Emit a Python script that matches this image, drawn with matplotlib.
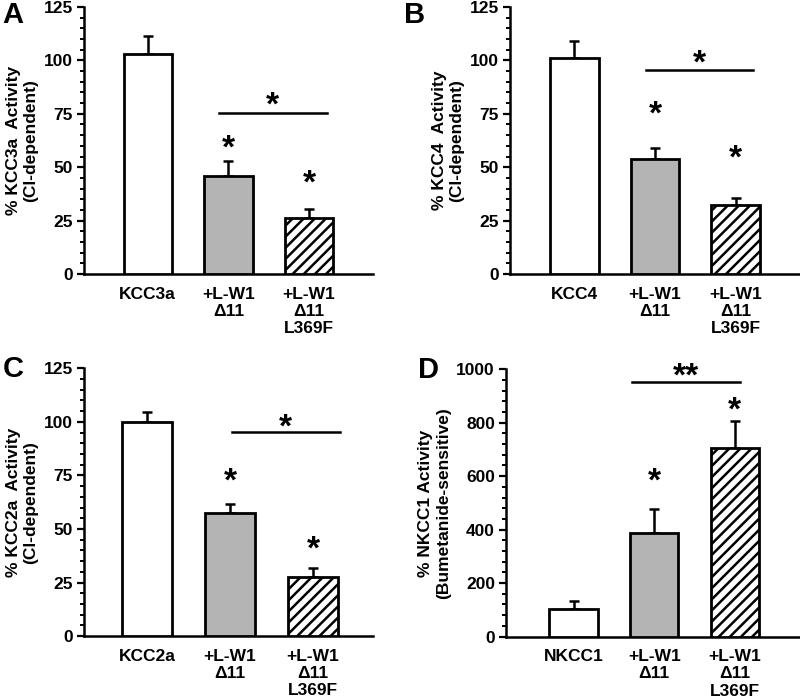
import numpy as np
import matplotlib.pyplot as plt
from matplotlib.ticker import MultipleLocator

plt.rcParams['font.family'] = ['Liberation Sans', 'DejaVu Sans']
plt.rcParams['font.weight'] = 'bold'
plt.rcParams['hatch.linewidth'] = 1.8

cat_A = ['KCC3a', '+L-W1\n\u039411', '+L-W1\n\u039411\nL369F']
mean_A = [103, 46, 26]
err_A = [8.3, 6.8, 4.4]

cat_B = ['KCC4', '+L-W1\n\u039411', '+L-W1\n\u039411\nL369F']
mean_B = [101, 54, 32.5]
err_B = [8, 5, 3]

cat_C = ['KCC2a', '+L-W1\n\u039411', '+L-W1\n\u039411\nL369F']
mean_C = [100, 57.5, 27.5]
err_C = [4.5, 4, 4.5]

cat_D = ['NKCC1', '+L-W1\n\u039411', '+L-W1\n\u039411\nL369F']
mean_D = [102, 387, 705]
err_D = [31, 90, 102]

# significance: (line y, line x0, x1, label over line, label y), per-bar stars
sig_A = (75.5, 0.88, 2.22, '*', 83.5, [(1, 63.5), (2, 47.4)])
sig_B = (95.4, 0.89, 2.22, '*', 103.5, [(1, 79.6), (2, 59)])
sig_C = (95.2, 1.02, 2.32, '*', 102, [(1, 76.8), (2, 45)])
sig_D = (953, 0.72, 2.06, '**', 1010, [(1, 620), (2, 883)])

fig = plt.figure(figsize=(8, 6.99), dpi=100)

STAR_FS = 24
FS = 12.5


def star(ax, x, y, s):
    ax.annotate(s, (x, y), xytext=(0, -0.58 * STAR_FS), textcoords='offset points',
                ha='center', va='baseline', fontsize=STAR_FS, fontweight='bold',
                annotation_clip=False)


def panel(rect, cats, means, errs, ylim, major, minor, ylabel, letter, sig, xlim):
    ax = fig.add_axes(rect)
    x = np.arange(len(cats))
    fills = ['white', '#b4b4b4', 'white']
    hatches = [None, None, '///']
    for i in range(len(cats)):
        ax.bar(x[i], means[i], width=0.6, color=fills[i], edgecolor='black',
               linewidth=2.0, hatch=hatches[i], zorder=3)
    ax.errorbar(x, means, yerr=[np.zeros(len(errs)), errs], fmt='none',
                ecolor='black', elinewidth=1.8, capsize=3.5, capthick=1.8, zorder=2)
    ax.set_ylim(*ylim)
    ax.set_xlim(*xlim)
    ax.yaxis.set_major_locator(MultipleLocator(major))
    ax.yaxis.set_minor_locator(MultipleLocator(minor))
    for s in ['top', 'right']:
        ax.spines[s].set_visible(False)
    for s in ['left', 'bottom']:
        ax.spines[s].set_linewidth(1.8)
    ax.tick_params(axis='y', which='major', length=5, width=1.6, labelsize=FS, pad=3)
    ax.tick_params(axis='y', which='minor', length=3, width=1.4)
    ax.tick_params(axis='x', length=0, pad=9)
    ax.set_xticks(x)
    ax.set_xticklabels(cats, fontsize=FS, fontweight='bold', linespacing=1.2, va='top')
    for lab in ax.get_yticklabels():
        lab.set_fontweight('bold')
    ax.set_ylabel(ylabel, fontsize=FS, fontweight='bold', labelpad=4, linespacing=1.2)
    ly, x0, x1, slabel, sy, bars = sig
    ax.plot([x0, x1], [ly, ly], color='black', lw=1.8, clip_on=False)
    star(ax, (x0 + x1) / 2, sy, slabel)
    for bi, by in bars:
        star(ax, bi, by, '*')
    fig.text(letter[1], letter[2], letter[0], fontsize=21, fontweight='bold',
             ha='left', va='center')
    return ax


panel([0.105, 0.608, 0.361, 0.382], cat_A, mean_A, err_A, (0, 125), 25, 5,
      '% KCC3a  Activity\n(Cl-dependent)', ('A', 0.003, 0.979), sig_A, (-0.79, 2.79))
panel([0.6375, 0.608, 0.3625, 0.382], cat_B, mean_B, err_B, (0, 125), 25, 5,
      '% KCC4  Activity\n(Cl-dependent)', ('B', 0.505, 0.979), sig_B, (-0.80, 2.80))
panel([0.105, 0.090, 0.361, 0.383], cat_C, mean_C, err_C, (0, 125), 25, 5,
      '% KCC2a  Activity\n(Cl-dependent)', ('C', 0.003, 0.472), sig_C, (-0.76, 2.72))
panel([0.6325, 0.0894, 0.3675, 0.3823], cat_D, mean_D, err_D, (0, 1000), 200, 40,
      '% NKCC1 Activity\n(Bumetanide-sensitive)', ('D', 0.522, 0.470), sig_D, (-0.84, 2.81))

plt.savefig('out.png', dpi=100)
